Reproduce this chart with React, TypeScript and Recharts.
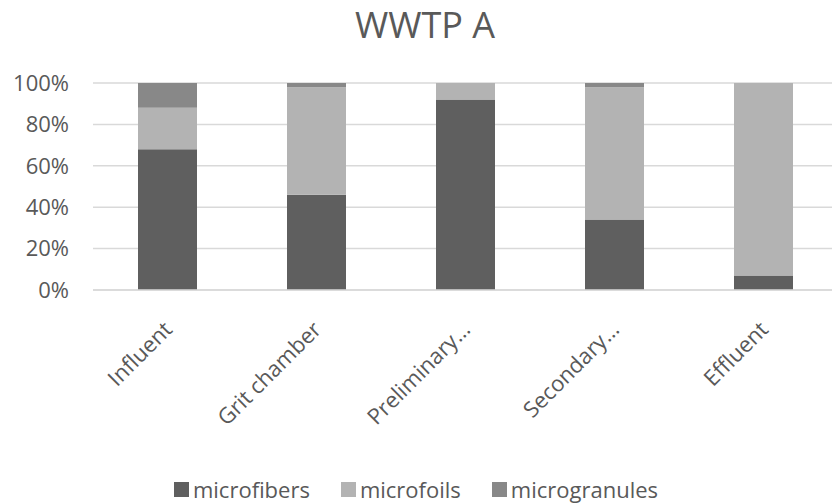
import { BarChart, Bar, XAxis, YAxis, CartesianGrid, Legend } from "recharts";

const categories = ["Influent", "Grit chamber", "Preliminary…", "Secondary…", "Effluent"];
const microfibers = [68, 46, 92, 34, 7];
const microfoils = [20, 52, 8, 64, 93];
const microgranules = [12, 2, 0, 2, 0];
const yTicks = [0, 20, 40, 60, 80, 100];

const series = [
  { key: "microfibers", color: "#5f5f5f" },
  { key: "microfoils", color: "#b3b3b3" },
  { key: "microgranules", color: "#888888" },
];

const data = categories.map((name, i) => ({
  name,
  microfibers: microfibers[i],
  microfoils: microfoils[i],
  microgranules: microgranules[i],
}));

const FONT = "'Open Sans', sans-serif";
const TEXT = "#595959";

function AngledTick(props: any) {
  const { x, y, payload } = props;
  const tx = x + 6;
  const ty = y + 33;
  return (
    <text
      x={tx}
      y={ty}
      transform={`rotate(-45, ${tx}, ${ty})`}
      textAnchor="end"
      fill={TEXT}
      fontSize={22}
      fontFamily={FONT}
    >
      {payload.value}
    </text>
  );
}

function LegendRow() {
  return (
    <div
      style={{
        display: "flex",
        justifyContent: "center",
        alignItems: "center",
        gap: 31,
        fontFamily: FONT,
        fontSize: 22,
        color: TEXT,
        lineHeight: "30px",
      }}
    >
      {series.map((s) => (
        <span key={s.key} style={{ display: "flex", alignItems: "center" }}>
          <span
            style={{
              display: "inline-block",
              width: 15,
              height: 15,
              background: s.color,
              marginRight: 4,
            }}
          />
          {s.key}
        </span>
      ))}
    </div>
  );
}

export default function App() {
  return (
    <div
      style={{
        position: "absolute",
        left: 0,
        top: 0,
        width: 832,
        height: 504,
        overflow: "hidden",
        background: "#fff",
      }}
    >
      <div
        style={{
          position: "absolute",
          top: 0,
          left: 18,
          width: 814,
          textAlign: "center",
          fontFamily: FONT,
          fontSize: 36,
          color: TEXT,
        }}
      >
        WWTP A
      </div>
      <BarChart
        width={850}
        height={504}
        data={data}
        margin={{ top: 83, right: 12, bottom: 0, left: 0 }}
      >
        <CartesianGrid vertical={false} stroke="#d9d9d9" strokeWidth={1.5} />
        <XAxis
          dataKey="name"
          tick={<AngledTick />}
          tickLine={false}
          axisLine={{ stroke: "#d9d9d9", strokeWidth: 1.5 }}
          interval={0}
          height={184}
        />
        <YAxis
          domain={[0, 100]}
          ticks={yTicks}
          tickFormatter={(v) => `${v}%`}
          tick={{ fill: TEXT, fontSize: 22, fontFamily: FONT }}
          tickLine={false}
          axisLine={false}
          width={93}
          tickMargin={18}
        />
        <Legend
          verticalAlign="bottom"
          content={<LegendRow />}
          wrapperStyle={{
            position: "absolute",
            top: 474,
            left: 0,
            width: 832,
          }}
        />
        {series.map((s) => (
          <Bar
            key={s.key}
            dataKey={s.key}
            stackId="a"
            fill={s.color}
            barSize={59}
            isAnimationActive={false}
          />
        ))}
      </BarChart>
    </div>
  );
}
